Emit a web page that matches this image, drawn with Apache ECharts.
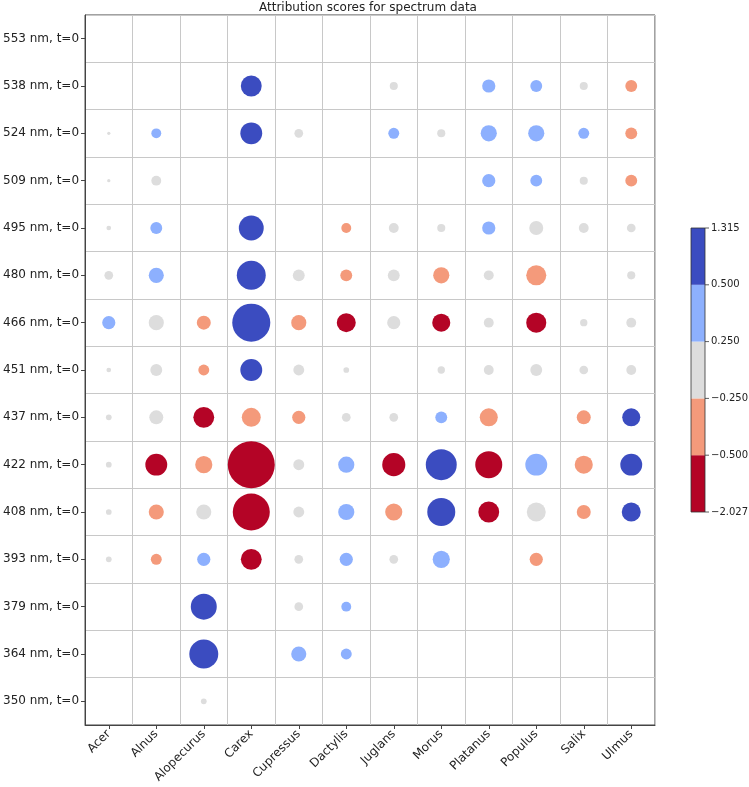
<!DOCTYPE html>
<html>
<head>
<meta charset="utf-8">
<title>Attribution scores for spectrum data</title>
<script src="https://cdn.jsdelivr.net/npm/echarts@6/dist/echarts.min.js"></script>
<style>
  html, body { margin: 0; padding: 0; background: #fff; }
  #main { width: 749px; height: 787px; }
</style>
</head>
<body>
<div id="main"></div>
<script>
var species = ['Acer', 'Alnus', 'Alopecurus', 'Carex', 'Cupressus', 'Dactylis',
               'Juglans', 'Morus', 'Platanus', 'Populus', 'Salix', 'Ulmus'];

var wavelengths = ['553 nm, t=0', '538 nm, t=0', '524 nm, t=0', '509 nm, t=0',
                   '495 nm, t=0', '480 nm, t=0', '466 nm, t=0', '451 nm, t=0',
                   '437 nm, t=0', '422 nm, t=0', '408 nm, t=0', '393 nm, t=0',
                   '379 nm, t=0', '364 nm, t=0', '350 nm, t=0'];

// attribution score (colour), one row per wavelength, one cell per species
// null = no point
var scores = [
  [null, null, null, null, null, null, null, null, null, null, null, null],
  [null, null, null, 0.62, null, null, 0.06, null, 0.35, 0.32, 0.06, -0.31],
  [0.01, 0.28, null, 0.66, -0.08, null, 0.30, 0.06, 0.42, 0.42, 0.30, -0.31],
  [0.01, 0.10, null, null, null, null, null, null, 0.35, 0.32, 0.06, -0.31],
  [0.03, 0.32, null, 0.78, null, -0.27, 0.10, 0.06, 0.35, -0.17, 0.10, -0.08],
  [-0.08, 0.40, null, 0.95, 0.13, -0.31, 0.13, -0.40, 0.10, -0.48, null, 0.06],
  [0.35, 0.18, -0.35, 1.315, -0.37, -0.66, 0.15, -0.62, 0.10, -0.70, 0.05, 0.10],
  [0.03, 0.13, -0.29, 0.66, -0.12, -0.04, null, 0.05, 0.10, 0.13, -0.08, 0.10],
  [-0.04, -0.17, -0.75, -0.47, -0.33, -0.08, -0.08, 0.32, -0.45, null, -0.35, 0.58],
  [-0.04, -0.80, -0.42, -2.027, -0.12, 0.42, -0.86, 1.02, -1.05, 0.48, -0.45, 0.66],
  [-0.04, -0.37, 0.18, -1.60, -0.12, 0.42, -0.42, 0.90, -0.75, -0.22, -0.35, 0.60],
  [-0.04, -0.29, 0.35, -0.75, -0.08, 0.35, -0.08, 0.45, null, -0.33, null, null],
  [null, null, 0.84, null, 0.07, 0.28, null, null, null, null, null, null],
  [null, null, 0.95, null, 0.40, 0.30, null, null, null, null, null, null],
  [null, null, 0.03, null, null, null, null, null, null, null, null, null]
];

// bubble weight (area), same layout as scores
var weights = [
  [null, null, null, null, null, null, null, null, null, null, null, null],
  [null, null, null, 0.40, null, null, 0.06, null, 0.16, 0.13, 0.06, 0.13],
  [0.01, 0.09, null, 0.44, 0.07, null, 0.11, 0.06, 0.24, 0.24, 0.11, 0.13],
  [0.01, 0.09, null, null, null, null, null, null, 0.16, 0.13, 0.06, 0.13],
  [0.02, 0.13, null, 0.57, null, 0.09, 0.09, 0.06, 0.16, 0.18, 0.09, 0.07],
  [0.07, 0.21, null, 0.77, 0.13, 0.13, 0.13, 0.24, 0.09, 0.37, null, 0.06],
  [0.16, 0.21, 0.18, 1.33, 0.21, 0.33, 0.16, 0.30, 0.09, 0.37, 0.05, 0.09],
  [0.02, 0.13, 0.11, 0.44, 0.11, 0.03, null, 0.05, 0.09, 0.13, 0.07, 0.09],
  [0.03, 0.18, 0.40, 0.33, 0.16, 0.07, 0.07, 0.13, 0.30, null, 0.18, 0.30],
  [0.03, 0.44, 0.27, 2.03, 0.11, 0.24, 0.49, 0.88, 0.67, 0.44, 0.30, 0.44],
  [0.03, 0.21, 0.21, 1.26, 0.11, 0.24, 0.27, 0.72, 0.40, 0.33, 0.18, 0.33],
  [0.03, 0.11, 0.16, 0.40, 0.07, 0.16, 0.07, 0.27, null, 0.16, null, null],
  [null, null, 0.62, null, 0.07, 0.09, null, null, null, null, null, null],
  [null, null, 0.77, null, 0.21, 0.11, null, null, null, null, null, null],
  [null, null, 0.03, null, null, null, null, null, null, null, null, null]
];

// colour bar bins (coolwarm)
var cbBounds = [-2.027, -0.5, -0.25, 0.25, 0.5, 1.315];
var cbColors = ['#b40426', '#f49a7b', '#dddddd', '#8db0fe', '#3b4cc0'];

var FONT = 'DejaVu Sans';

var points = [];
scores.forEach(function (row, r) {
  row.forEach(function (v, c) {
    if (v === null) return;
    points.push([c, r, v, weights[r][c]]);
  });
});

var pieces = cbColors.map(function (col, i) {
  var p = { gte: cbBounds[i], color: col };
  if (i === cbColors.length - 1) p.lte = cbBounds[i + 1];
  else p.lt = cbBounds[i + 1];
  return p;
});

// colour bar drawn beside the plot
var cb = { x: 691, y: 228, w: 14, h: 284 };
var segH = cb.h / cbColors.length;
var cbElements = [];
cbColors.forEach(function (col, i) {
  cbElements.push({
    type: 'rect',
    shape: { x: cb.x, y: cb.y + (cbColors.length - 1 - i) * segH, width: cb.w, height: segH },
    style: { fill: col }
  });
});
cbElements.push({
  type: 'rect',
  shape: { x: cb.x, y: cb.y, width: cb.w, height: cb.h },
  style: { fill: null, stroke: '#333', lineWidth: 0.8 }
});
cbBounds.forEach(function (b, i) {
  var y = cb.y + cb.h - i * segH;
  cbElements.push({
    type: 'line',
    shape: { x1: cb.x + cb.w, y1: y, x2: cb.x + cb.w + 4, y2: y },
    style: { stroke: '#333', lineWidth: 0.8 }
  });
  cbElements.push({
    type: 'text',
    x: cb.x + cb.w + 6,
    y: y,
    style: {
      text: b.toFixed(3).replace('-', '\u2212'),
      font: '10px "' + FONT + '"',
      fill: '#222',
      verticalAlign: 'middle',
      align: 'left'
    }
  });
});

var myChart = echarts.init(document.getElementById('main'));
var option = {
  animation: false,
  backgroundColor: '#fff',
  textStyle: { fontFamily: FONT },
  title: {
    text: 'Attribution scores for spectrum data',
    left: 368,
    top: 2,
    padding: 0,
    textAlign: 'center',
    textStyle: { fontSize: 12, fontWeight: 'normal', color: '#222', fontFamily: FONT }
  },
  grid: {
    left: 82, right: 94, top: 15, bottom: 62,
    show: true, borderColor: '#444', borderWidth: 1
  },
  xAxis: {
    type: 'category',
    data: species,
    boundaryGap: true,
    axisLine: { show: true, lineStyle: { color: '#444' } },
    axisTick: { show: true, alignWithLabel: true, length: 4, lineStyle: { color: '#444' } },
    axisLabel: { rotate: 45, fontSize: 12, color: '#222', margin: 7, fontFamily: FONT },
    splitLine: { show: true, lineStyle: { color: '#c8c8c8', width: 1 } }
  },
  yAxis: {
    type: 'category',
    data: wavelengths,
    inverse: true,
    boundaryGap: true,
    axisLine: { show: true, lineStyle: { color: '#444' } },
    axisTick: { show: true, alignWithLabel: true, length: 4, lineStyle: { color: '#444' } },
    axisLabel: { fontSize: 12, color: '#222', margin: 6, fontFamily: FONT },
    splitLine: { show: true, lineStyle: { color: '#c8c8c8', width: 1 } }
  },
  visualMap: {
    type: 'piecewise',
    show: false,
    dimension: 2,
    seriesIndex: 0,
    pieces: pieces
  },
  series: [{
    type: 'scatter',
    data: points,
    symbol: 'circle',
    symbolSize: function (val) { return 33 * Math.sqrt(val[3]); },
    itemStyle: { opacity: 1 }
  }],
  graphic: cbElements
};
myChart.setOption(option);
</script>
</body>
</html>
